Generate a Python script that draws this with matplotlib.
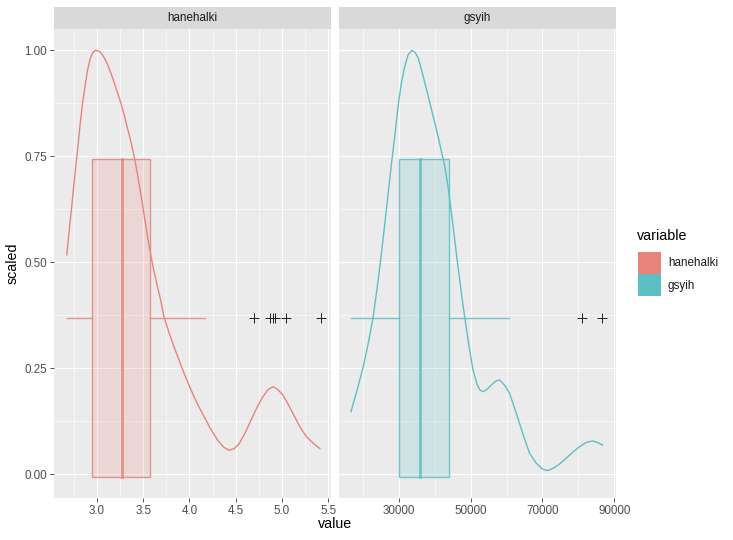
import matplotlib
matplotlib.use("Agg")
import matplotlib.pyplot as plt
from matplotlib.patches import Rectangle

plt.rcParams['font.family'] = ['Liberation Sans', 'DejaVu Sans']

# --- data ---
panels = ['hanehalki', 'gsyih']
colors = ['#E8837B', '#5DBFC4']

# scaled density curves
hane_x = [2.674, 2.705, 2.735, 2.764, 2.789, 2.818, 2.845, 2.873, 2.900, 2.927, 2.955,
          2.980, 3.000, 3.027, 3.054, 3.081, 3.109, 3.145, 3.181, 3.217, 3.253, 3.290,
          3.326, 3.362, 3.398, 3.435, 3.466, 3.496, 3.530, 3.560, 3.590, 3.620, 3.650,
          3.690, 3.724, 3.780, 3.833, 3.890, 3.941, 4.000, 4.050, 4.105, 4.159, 4.230,
          4.304, 4.370, 4.430, 4.485, 4.539, 4.600, 4.666, 4.730, 4.793, 4.850, 4.902,
          4.955, 5.011, 5.075, 5.137, 5.200, 5.264, 5.340, 5.409]
hane_y = [0.518, 0.585, 0.648, 0.712, 0.762, 0.825, 0.876, 0.918, 0.955, 0.980, 0.995,
          1.000, 1.000, 0.998, 0.992, 0.982, 0.970, 0.950, 0.928, 0.904, 0.880, 0.852,
          0.820, 0.790, 0.755, 0.712, 0.672, 0.632, 0.584, 0.544, 0.508, 0.476, 0.447,
          0.410, 0.372, 0.334, 0.301, 0.268, 0.239, 0.208, 0.183, 0.158, 0.136, 0.107,
          0.081, 0.064, 0.057, 0.061, 0.073, 0.097, 0.128, 0.158, 0.183, 0.200, 0.207,
          0.200, 0.187, 0.162, 0.136, 0.110, 0.089, 0.073, 0.061]
gsyih_x = [16670, 18400, 20080, 21500, 22860, 24250, 25200, 26110, 27050, 27970, 28890,
           29810, 30740, 31670, 32580, 33600, 34500, 35360, 36300, 37220, 38150, 39080,
           40000, 40920, 41850, 42780, 43700, 44630, 45560, 46250, 46940, 47600, 48330,
           49500, 50650, 51800, 52600, 53420, 54600, 55750, 57000, 58060, 59500, 60830,
           62200, 63610, 65000, 66390, 68200, 70080, 71500, 72860, 74700, 76580, 78400,
           80280, 82100, 83970, 85400, 86750]
gsyih_y = [0.148, 0.200, 0.254, 0.310, 0.372, 0.459, 0.525, 0.593, 0.665, 0.735, 0.800,
           0.870, 0.925, 0.963, 0.990, 1.000, 0.996, 0.983, 0.955, 0.924, 0.893, 0.861,
           0.830, 0.797, 0.762, 0.727, 0.679, 0.617, 0.553, 0.505, 0.459, 0.415, 0.372,
           0.305, 0.246, 0.212, 0.199, 0.195, 0.201, 0.211, 0.220, 0.223, 0.210, 0.191,
           0.157, 0.120, 0.084, 0.050, 0.027, 0.012, 0.009, 0.014, 0.024, 0.038, 0.052,
           0.065, 0.075, 0.079, 0.075, 0.069]

# boxplot stats: whisker low, q1, median, q3, whisker high
hane_box = [2.674, 2.949, 3.267, 3.579, 4.163]
gsyih_box = [16670, 30080, 35920, 43980, 60760]
hane_out = [4.696, 4.876, 4.902, 4.924, 5.047, 5.42]
gsyih_out = [80920, 86480]
box_center = 0.37
box_height = 0.75

curves_x = [hane_x, gsyih_x]
curves_y = [hane_y, gsyih_y]
boxes = [hane_box, gsyih_box]
outliers = [hane_out, gsyih_out]

xlims = [(2.536, 5.53), (13330, 90390)]
xmajor = [[3.0, 3.5, 4.0, 4.5, 5.0, 5.5], [30000, 50000, 70000, 90000]]
xminor = [[2.75, 3.25, 3.75, 4.25, 4.75, 5.25], [20000, 40000, 60000, 80000]]
xlabels = [['3.0', '3.5', '4.0', '4.5', '5.0', '5.5'], ['30000', '50000', '70000', '90000']]
yticks = [0.0, 0.25, 0.5, 0.75, 1.0]
yminor = [0.125, 0.375, 0.625, 0.875]

W, H = 733, 540
fig = plt.figure(figsize=(W / 100, H / 100), dpi=100)


def px(x0, y0, x1, y1):
    # pixel box (top-left origin) -> figure fraction rect
    return [x0 / W, 1 - y1 / H, (x1 - x0) / W, (y1 - y0) / H]


panel_px = [(54, 331), (339, 615.7)]
top, bottom = 29.3, 497.7

for i in range(2):
    x0, x1 = panel_px[i]
    ax = fig.add_axes(px(x0, top, x1, bottom))
    ax.set_facecolor('#EBEBEB')
    for s in ax.spines.values():
        s.set_visible(False)
    ax.set_xlim(*xlims[i])
    ax.set_ylim(-0.055, 1.05)
    ax.set_xticks(xmajor[i])
    ax.set_xticklabels(xlabels[i])
    ax.set_xticks(xminor[i], minor=True)
    ax.set_yticks(yticks)
    ax.set_yticks(yminor, minor=True)
    ax.grid(which='major', color='white', linewidth=0.8)
    ax.grid(which='minor', color='white', linewidth=0.4)
    ax.set_axisbelow(True)
    ax.tick_params(which='minor', length=0)
    ax.tick_params(which='major', length=3.2, width=0.6, color='#333333',
                   labelsize=8.4, labelcolor='#4D4D4D', pad=1.8)
    if i == 0:
        ax.set_yticklabels(['0.00', '0.25', '0.50', '0.75', '1.00'])
    else:
        ax.tick_params(axis='y', left=False, labelleft=False)

    c = colors[i]
    lo, q1, med, q3, hi = boxes[i]
    ax.add_patch(Rectangle((q1, box_center - box_height / 2), q3 - q1, box_height,
                           facecolor=c, alpha=0.2, edgecolor='none', zorder=2))
    ax.add_patch(Rectangle((q1, box_center - box_height / 2), q3 - q1, box_height,
                           facecolor='none', edgecolor=c, alpha=0.85, linewidth=1.0, zorder=3))
    ax.plot([med, med], [box_center - box_height / 2, box_center + box_height / 2],
            color=c, alpha=0.85, linewidth=2.0, zorder=3)
    ax.plot([lo, q1], [box_center, box_center], color=c, alpha=0.85, linewidth=1.0, zorder=3)
    ax.plot([q3, hi], [box_center, box_center], color=c, alpha=0.85, linewidth=1.0, zorder=3)
    ax.plot(outliers[i], [box_center] * len(outliers[i]), linestyle='none', marker='+',
            color='#222222', markersize=6.5, markeredgewidth=0.7, zorder=4)
    ax.plot(curves_x[i], curves_y[i], color=c, linewidth=1.0, zorder=4)

    # facet strip
    sax = fig.add_axes(px(x0, 6.7, x1, top))
    sax.set_facecolor('#D9D9D9')
    for s in sax.spines.values():
        s.set_visible(False)
    sax.set_xticks([])
    sax.set_yticks([])
    sax.text(0.5, 0.5, panels[i], ha='center', va='center', fontsize=8.4,
             color='#1A1A1A', transform=sax.transAxes)

fig.text(335 / W, 1 - 524 / H, 'value', ha='center', va='center', fontsize=10.3)
fig.text(13 / W, 1 - 263 / H, 'scaled', ha='center', va='center', fontsize=10.3, rotation=90)

# legend
fig.text(637 / W, 1 - 236 / H, 'variable', ha='left', va='center', fontsize=10.3)
for k in range(2):
    y0 = 251.5 + k * 22.5
    fig.add_artist(Rectangle((637.5 / W, 1 - (y0 + 22) / H), 23 / W, 22 / H,
                             facecolor=colors[k], edgecolor='none',
                             transform=fig.transFigure))
    fig.text(668 / W, 1 - (y0 + 11.5) / H, panels[k], ha='left', va='center',
             fontsize=8.4, color='#1A1A1A')

fig.savefig('out.png', dpi=100)
